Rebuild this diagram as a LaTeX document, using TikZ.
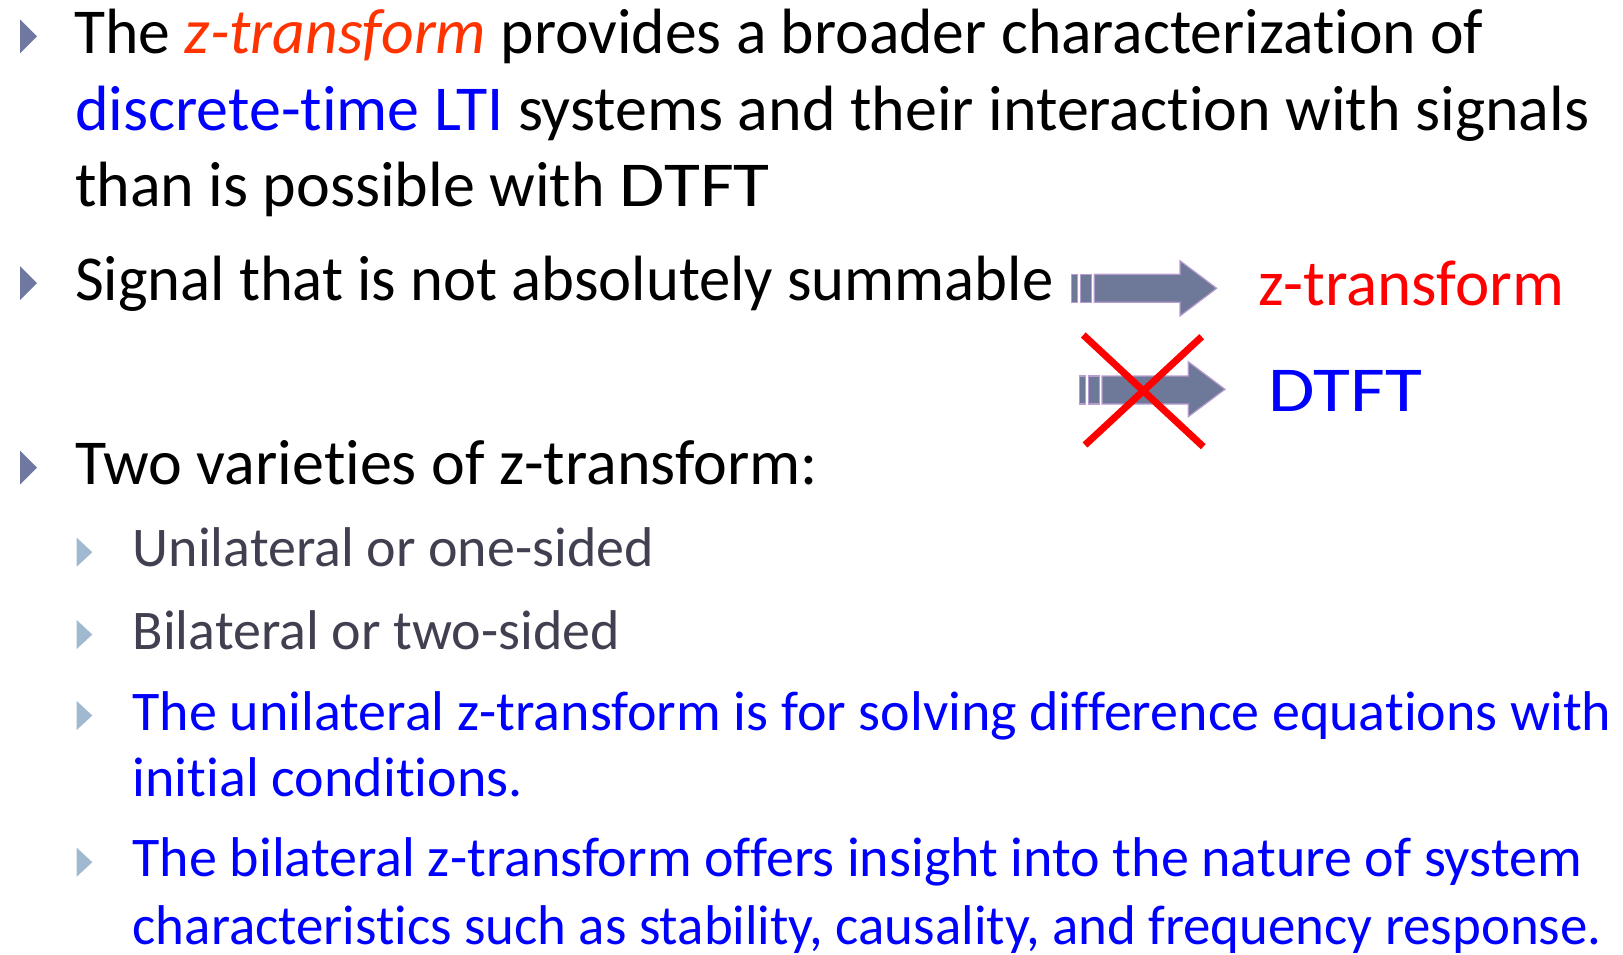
\documentclass[tikz,border=0pt]{standalone}
\usepackage{fontspec}
\setmainfont[Ligatures={NoCommon}]{Carlito}
\usepackage{xcolor}
\usepackage{graphicx}
\definecolor{zred}{HTML}{FF3300}
\definecolor{pred}{HTML}{FF0000}
\definecolor{pblue}{HTML}{0000FF}
\definecolor{subgray}{HTML}{404050}
\definecolor{mainbul}{HTML}{6E78A0}
\definecolor{subbul}{HTML}{A0B8D0}
\definecolor{arrfill}{HTML}{6E7899}
\definecolor{arrline}{HTML}{B89CD0}
\begin{document}
\begin{tikzpicture}[x=1pt,y=-1pt,
  txt/.style={anchor=base west,inner sep=0pt,outer sep=0pt,font=\fontsize{64}{76}\selectfont},
  subtxt/.style={anchor=base west,inner sep=0pt,outer sep=0pt,font=\fontsize{56}{66}\selectfont},
  mb/.pic={\fill[mainbul] (20,-34) -- (37,-17) -- (20,0) -- cycle;},
  sb/.pic={\fill[subbul] (76.7,-29) -- (92.3,-14.5) -- (76.7,0) -- cycle;},
  fatarrow/.style={fill=arrfill,draw=arrline,line width=1.2pt,line join=miter},
  cross/.style={draw=pred,line width=7pt}]
\useasboundingbox (0,0) rectangle (1623,954);
% main bullets
\pic at (0,53.3) {mb};
\pic at (0,300) {mb};
\pic at (0,484.5) {mb};
% sub bullets
\pic at (0,566.7) {sb};
\pic at (0,649) {sb};
\pic at (0,730) {sb};
\pic at (0,876.7) {sb};
% main text
\node[txt] (l1) at (74.5,53.3) {\scalebox{0.994}[1]{The \textcolor{zred}{\itshape z-transform} provides a broader characterization of}};
\node[txt] (l2) at (75,130.5) {\textcolor{pblue}{discrete-time LTI} systems and their interaction with signals};
\node[txt] (l3) at (75,206.7) {than is possible with \scalebox{1.15}[1]{DTFT}};
\node[txt] (l4) at (75,300) {\scalebox{0.979}[1]{Signal that is not absolutely summable}};
\node[txt] (l5) at (75,484.5) {Two varieties of z-transform:};
% sub text
\node[subtxt,text=subgray] (s1) at (132.7,566.7) {Unilateral or one-sided};
\node[subtxt,text=subgray] (s2) at (132.7,649) {Bilateral or two-sided};
\node[subtxt,text=pblue] (s3a) at (132.7,730) {The unilateral z-transform is for solving difference equations with};
\node[subtxt,text=pblue] (s3b) at (132.7,796.7) {initial conditions.};
\node[subtxt,text=pblue] (s4a) at (132.7,876.7) {The bilateral z-transform offers insight into the nature of system};
\node[subtxt,text=pblue] (s4b) at (132.7,944) {\scalebox{0.98}[1]{characteristics such as stability, causality, and frequency response.}};
% right labels
\node[txt,text=pred,font=\fontsize{65}{76}\selectfont] (zt) at (1258,305) {z-transform};
\node[txt,text=pblue] (dt) at (1268,411.7) {\scalebox{1.18}[1]{DTFT}};
% arrow 1
\draw[fatarrow] (1071.7,274.3) rectangle (1077.3,302.3);
\draw[fatarrow] (1080.7,274.3) rectangle (1091.7,302.3);
\draw[fatarrow] (1094.3,274.3) -- (1180,274.3) -- (1180,260.7) -- (1216.7,288.3) -- (1180,316) -- (1180,302.3) -- (1094.3,302.3) -- cycle;
% arrow 2
\draw[fatarrow] (1079.3,376) rectangle (1085.3,404);
\draw[fatarrow] (1088.3,376) rectangle (1099.3,404);
\draw[fatarrow] (1102,376) -- (1188.3,376) -- (1188.3,361.7) -- (1225,389.3) -- (1188.3,416.7) -- (1188.3,404) -- (1102,404) -- cycle;
% cross
\draw[cross] (1083.3,335) -- (1203.3,446.7);
\draw[cross] (1201.7,336.7) -- (1085,445);
\end{tikzpicture}
\end{document}
